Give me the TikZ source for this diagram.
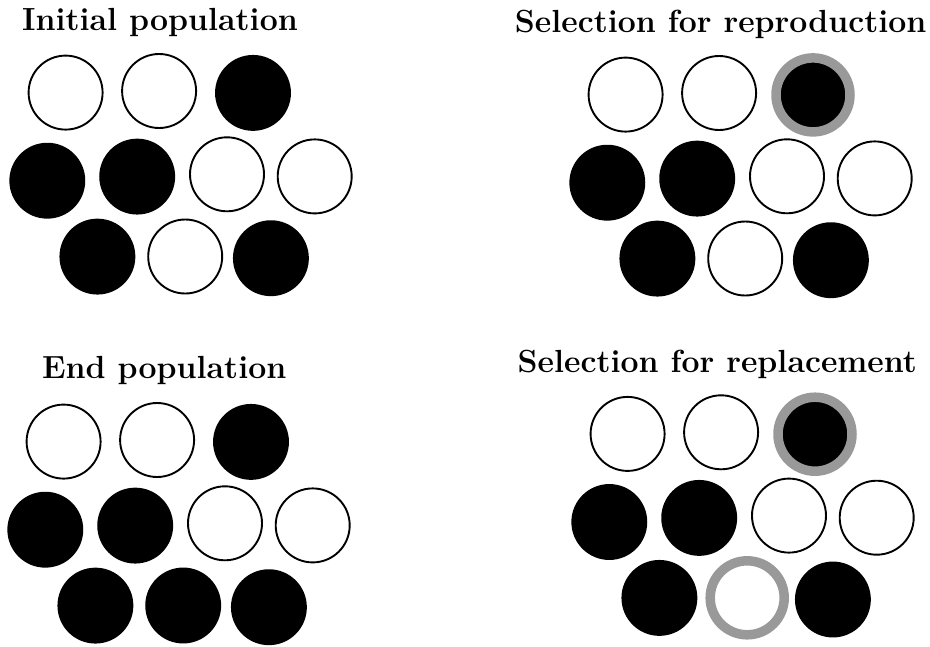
\documentclass[tikz,border=0pt]{standalone}
\begin{document}
\begin{tikzpicture}[x=1pt,y=-1pt,
  ttl/.style={anchor=base,inner sep=0pt,font=\fontsize{32}{38}\selectfont\bfseries},
  base/.style={circle,minimum size=74pt,inner sep=0pt},
  wc/.style={base,draw=black,fill=white,line width=1.9pt},
  bc/.style={base,draw=black,fill=black,line width=1.9pt},
  bsel/.style={base,draw=black!40,fill=black,line width=9.5pt},
  wsel/.style={base,draw=black!40,fill=white,line width=9.5pt}]
\useasboundingbox (0,0) rectangle (930,646);
\node[ttl] (t1) at (160,30) {Initial population};
\node[ttl] (t2) at (720.7,32.3) {Selection for reproduction};
\node[ttl] (t3) at (164.2,378.3) {End population};
\node[ttl] (t4) at (717.3,372.3) {Selection for replacement};
\begin{scope}
\foreach \px/\py/\s [count=\i] in {65.6/92.6/wc,159.1/91/wc,253/92.9/bc,
  47.3/180.7/bc,137.2/176.6/bc,227/174.3/wc,314.7/176.4/wc,
  97.4/256.6/bc,185.2/256.5/wc,270.9/258.2/bc}
  \node[\s] (a\i) at (\px,\py) {};
\end{scope}
\begin{scope}[shift={(560,2)}]
\foreach \px/\py/\s [count=\i] in {65.6/92.6/wc,159.1/91/wc,253/92.9/bsel,
  47.3/180.7/bc,137.2/176.6/bc,227/174.3/wc,314.7/176.4/wc,
  97.4/256.6/bc,185.2/256.5/wc,270.9/258.2/bc}
  \node[\s] (b\i) at (\px,\py) {};
\end{scope}
\begin{scope}[shift={(-2,349)}]
\foreach \px/\py/\s [count=\i] in {65.6/92.6/wc,159.1/91/wc,253/92.9/bc,
  47.3/180.7/bc,137.2/176.6/bc,227/174.3/wc,314.7/176.4/wc,
  97.4/256.6/bc,185.2/256.5/bc,270.9/258.2/bc}
  \node[\s] (c\i) at (\px,\py) {};
\end{scope}
\begin{scope}[shift={(562,341.3)}]
\foreach \px/\py/\s [count=\i] in {65.6/92.6/wc,159.1/91/wc,253/92.9/bsel,
  47.3/180.7/bc,137.2/176.6/bc,227/174.3/wc,314.7/176.4/wc,
  97.4/256.6/bc,185.2/256.5/wsel,270.9/258.2/bc}
  \node[\s] (d\i) at (\px,\py) {};
\end{scope}
\end{tikzpicture}
\end{document}
